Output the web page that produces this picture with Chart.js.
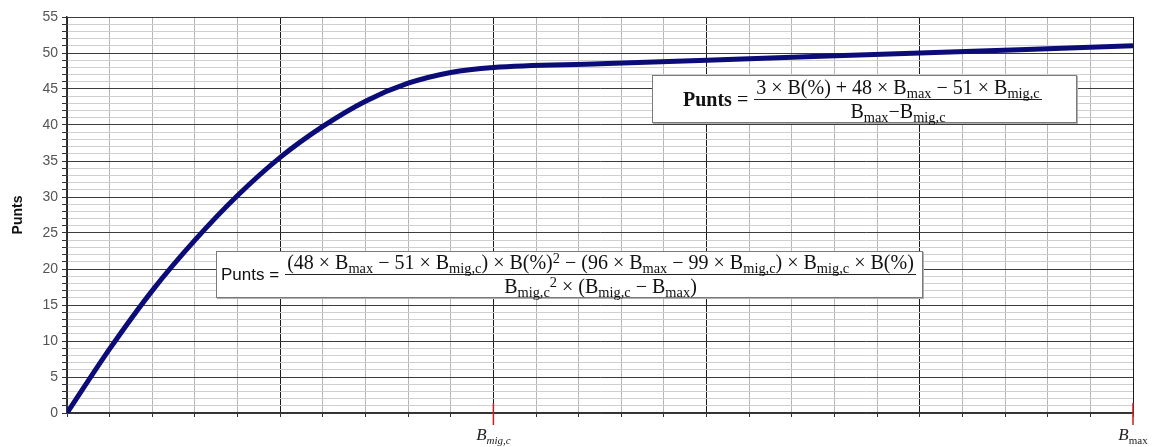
<!DOCTYPE html>
<html>
<head>
<meta charset="utf-8">
<script src="https://cdn.jsdelivr.net/npm/chart.js@4.4.1/dist/chart.umd.min.js"></script>
<style>
    html, body { margin: 0; padding: 0; background: #fff; }
    #wrap { position: relative; width: 1153px; height: 447px; }
    .fbox {
        position: absolute;
        background: #fff;
        border: 1px solid #7a7a7a;
        box-shadow: 1px 1px 0 #b0b0b0;
        font-family: 'Liberation Serif', serif;
        color: #111;
        display: flex;
        align-items: center;
        box-sizing: border-box;
        white-space: nowrap;
        line-height: 1.05;
    }
    .fbox sub { font-size: 0.72em; vertical-align: -0.3em; line-height: 0; }
    .fbox sup { font-size: 0.72em; vertical-align: 0.45em; line-height: 0; }
    .frac { display: inline-flex; flex-direction: column; align-items: center; }
    .frac .num { border-bottom: 1.5px solid #222; padding: 0 2px 1px 2px; }
    .frac .den { padding-top: 1px; }
    .lhs { margin-right: 6px; }
    .xlab {
        position: absolute;
        font-family: 'Liberation Serif', serif;
        color: #222;
        white-space: nowrap;
        transform: translateX(-50%);
    }
    .xlab > i { font-size: 17px; }
    .xlab sub { font-size: 11px; vertical-align: -0.35em; line-height: 0; }
</style>
</head>
<body>
<div id="wrap">
    <canvas id="chart"></canvas>

    <div class="fbox" id="f1" style="left:652px; top:75px; width:425px; height:48px; padding-left:30px; font-size:20px;">
        <span class="lhs"><b>Punts</b> =</span>
        <span class="frac">
            <span class="num">3 × B(%) + 48 × B<sub>max</sub> − 51 × B<sub>mig,c</sub></span>
            <span class="den">B<sub>max</sub>−B<sub>mig,c</sub></span>
        </span>
    </div>

    <div class="fbox" id="f2" style="left:216px; top:251px; width:707px; height:47px; padding-left:4px; font-size:20px;">
        <span class="lhs" style="font-family:'Liberation Sans', sans-serif; font-size:17px;">Punts =</span>
        <span class="frac">
            <span class="num">(48 × B<sub>max</sub> − 51 × B<sub>mig,c</sub>) × B(%)<sup>2</sup> − (96 × B<sub>max</sub> − 99 × B<sub>mig,c</sub>) × B<sub>mig,c</sub> × B(%)</span>
            <span class="den">B<sub>mig,c</sub><sup>2</sup> × (B<sub>mig,c</sub> − B<sub>max</sub>)</span>
        </span>
    </div>

    <div class="xlab" id="lab-mig"><i>B</i><sub><i>mig,c</i></sub></div>
    <div class="xlab" id="lab-max"><i>B</i><sub>max</sub></div>
</div>

<script>
// x runs from 0 to B_max in grid units; B_mig,c sits on the 10th line
const bValues = [0, 1, 2, 3, 4, 5, 6, 7, 8, 9, 10, 12.5, 15, 17.5, 20, 22.5, 25];
const puntsValues = [0, 8.9, 17, 24, 30.2, 35.5, 39.8, 43.3, 45.8, 47.3, 48, 48.5, 49, 49.5, 50, 50.5, 51];

const yTicks = { min: 0, max: 55, major: 5 };
const xTicks = { min: 0, max: 25, major: 5 };

// named points on the x axis
const markerValues = [10, 25];
const markerIds = ['lab-mig', 'lab-max'];

const COLORS = {
    line: '#0c0c78',
    gridMajorH: '#3c3c3c',
    gridMinorH: '#cfcfcf',
    gridMajorV: '#1a1a1a',
    gridMinorV: '#b6b6b6',
    tick: '#333',
    label: '#555',
    marker: '#c81e1e',
};

const markerPlugin = {
    id: 'markers',
    afterDraw(chart) {
        const ctx = chart.ctx;
        const xs = chart.scales.x;
        const bottom = chart.chartArea.bottom;
        ctx.save();
        ctx.strokeStyle = COLORS.marker;
        ctx.lineWidth = 1.5;
        markerValues.forEach((v, i) => {
            const px = xs.getPixelForValue(v);
            ctx.beginPath();
            ctx.moveTo(px, bottom - 10);
            ctx.lineTo(px, bottom + 12);
            ctx.stroke();
            const el = document.getElementById(markerIds[i]);
            el.style.left = px + 'px';
            el.style.top = (bottom + 12) + 'px';
        });
        ctx.restore();
    },
};

new Chart(document.getElementById('chart'), {
    type: 'line',
    data: {
        datasets: [{
            label: 'Punts',
            data: bValues.map((b, i) => ({ x: b, y: puntsValues[i] })),
            borderColor: COLORS.line,
            borderWidth: 5,
            pointRadius: 0,
            cubicInterpolationMode: 'monotone',
            fill: false,
        }],
    },
    options: {
        responsive: true,
        maintainAspectRatio: false,
        animation: false,
        layout: { padding: { top: 17, right: 20, left: 0, bottom: 0 } },
        plugins: { legend: { display: false }, tooltip: { enabled: false } },
        scales: {
            x: {
                type: 'linear',
                min: xTicks.min,
                max: xTicks.max,
                ticks: { stepSize: 1, callback: () => '' },
                grid: {
                    color: (c) => (c.tick.value % xTicks.major === 0 ? COLORS.gridMajorV : COLORS.gridMinorV),
                    tickColor: COLORS.tick,
                    tickLength: 4,
                },
                border: { color: '#333', width: 1.5 },
                afterFit: (s) => { s.height = 34; },
            },
            y: {
                // drawn first so the vertical lines stay solid on top
                z: -1,
                min: yTicks.min,
                max: yTicks.max,
                ticks: {
                    stepSize: 1,
                    autoSkip: false,
                    color: COLORS.label,
                    font: { family: "'Liberation Sans', Arial, sans-serif", size: 14 },
                    callback: (v) => (v % yTicks.major === 0 ? v : ''),
                    padding: 4,
                },
                grid: {
                    color: (c) => (c.tick.value % yTicks.major === 0 ? COLORS.gridMajorH : COLORS.gridMinorH),
                    tickColor: COLORS.tick,
                    tickLength: 5,
                },
                border: { color: '#333', width: 1.5 },
                title: {
                    display: true,
                    text: 'Punts',
                    color: '#111',
                    font: { family: "'Liberation Sans', Arial, sans-serif", size: 14, weight: 'bold' },
                    padding: { top: 10, bottom: 0 },
                },
                afterFit: (s) => { s.width = 67; },
            },
        },
    },
    plugins: [markerPlugin],
});
</script>
</body>
</html>
